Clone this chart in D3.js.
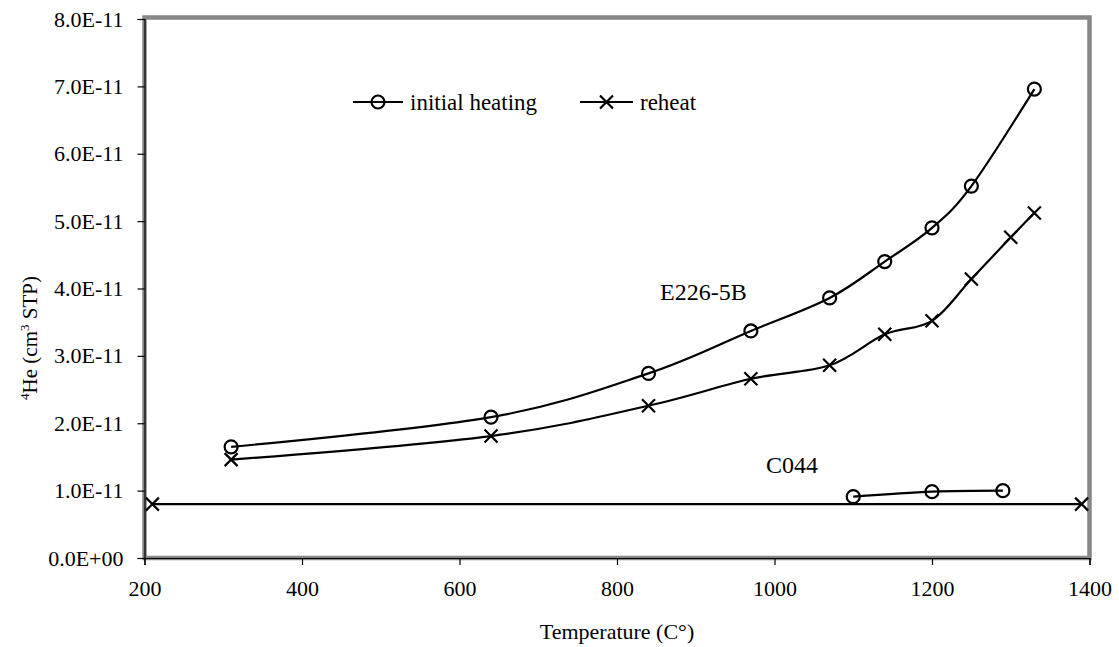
<!DOCTYPE html>
<html>
<head>
<meta charset="utf-8">
<script src="https://cdn.jsdelivr.net/npm/d3@7"></script>
<style>
  html, body { margin: 0; padding: 0; background: #fff; }
  svg text { font-family: "Liberation Serif", "Times New Roman", serif; fill: #000; }
</style>
</head>
<body>
<div id="chart"></div>
<script>
// E226-5B initial heating (circles)
const initTemp = [310, 640, 840, 970, 1070, 1140, 1200, 1250, 1330];
const initHe   = [1.65e-11, 2.09e-11, 2.74e-11, 3.37e-11, 3.86e-11, 4.40e-11, 4.90e-11, 5.52e-11, 6.96e-11];

// E226-5B reheat (crosses)
const reheatTemp = [310, 640, 840, 970, 1070, 1140, 1200, 1250, 1300, 1330];
const reheatHe   = [1.46e-11, 1.81e-11, 2.26e-11, 2.66e-11, 2.86e-11, 3.32e-11, 3.52e-11, 4.14e-11, 4.76e-11, 5.12e-11];

// C044 initial heating (circles)
const c044Temp = [1100, 1200, 1290];
const c044He   = [0.91e-11, 0.985e-11, 1.00e-11];

// blank / reheat baseline (crosses)
const blankTemp = [210, 1390];
const blankHe   = [0.80e-11, 0.80e-11];

const xTicks = [200, 400, 600, 800, 1000, 1200, 1400];
const yTicks = [0, 1e-11, 2e-11, 3e-11, 4e-11, 5e-11, 6e-11, 7e-11, 8e-11];

const W = 1119, H = 647;
const plot = { l: 144.5, r: 1089.5, t: 19, b: 558 };
const FONT = "Liberation Serif, Times New Roman, serif";

const svg = d3.select("#chart").append("svg")
  .attr("width", W)
  .attr("height", H)
  .attr("font-family", FONT);

const x = d3.scaleLinear().domain([200, 1400]).range([plot.l, plot.r]);
const y = d3.scaleLinear().domain([0, 8e-11]).range([plot.b, plot.t]);

const fmtY = d => d === 0 ? "0.0E+00" : (d / 1e-11).toFixed(1) + "E-11";

// plot area border
svg.append("rect")
  .attr("x", plot.l)
  .attr("y", plot.t - 1.5)
  .attr("width", plot.r - plot.l)
  .attr("height", plot.b - plot.t + 1.5)
  .attr("fill", "none")
  .attr("stroke", "#868686")
  .attr("stroke-width", 4.5);

// axes
const xAxis = svg.append("g")
  .attr("transform", `translate(0,${plot.b})`)
  .call(d3.axisBottom(x).tickValues(xTicks).tickSize(7).tickPadding(15).tickFormat(d3.format("d")));

const yAxis = svg.append("g")
  .attr("transform", `translate(${plot.l},0)`)
  .call(d3.axisLeft(y).tickValues(yTicks).tickSize(7).tickPadding(14).tickFormat(fmtY));

[xAxis, yAxis].forEach(g => {
  g.attr("font-family", FONT).attr("font-size", 22);
  g.select(".domain").attr("stroke", "#000").attr("stroke-width", 1.2);
  g.selectAll(".tick line").attr("stroke", "#000").attr("stroke-width", 1.2);
  g.selectAll(".tick text").attr("fill", "#000");
});

// axis titles
svg.append("text")
  .attr("x", (plot.l + plot.r) / 2)
  .attr("y", 639)
  .attr("text-anchor", "middle")
  .attr("font-size", 22)
  .text("Temperature (C°)");

const yTitle = svg.append("text")
  .attr("transform", "translate(37,338) rotate(-90)")
  .attr("text-anchor", "middle")
  .attr("font-size", 21);
yTitle.append("tspan").attr("font-size", 13).attr("dy", -8).text("4");
yTitle.append("tspan").attr("dy", 8).text("He (cm");
yTitle.append("tspan").attr("font-size", 13).attr("dy", -8).text("3");
yTitle.append("tspan").attr("dy", 8).text(" STP)");

// series
const toPts = (xs, ys) => xs.map((t, i) => ({ t, v: ys[i] }));

const smooth = d3.line()
  .x(d => x(d.t))
  .y(d => y(d.v))
  .curve(d3.curveCatmullRom.alpha(0));

const straight = d3.line()
  .x(d => x(d.t))
  .y(d => y(d.v));

const series = [
  { pts: toPts(initTemp, initHe), marker: "circle", line: smooth },
  { pts: toPts(reheatTemp, reheatHe), marker: "cross", line: smooth },
  { pts: toPts(c044Temp, c044He), marker: "circle", line: smooth },
  { pts: toPts(blankTemp, blankHe), marker: "cross", line: straight }
];

const gSeries = svg.append("g");

function drawMarker(g, type, cx, cy) {
  if (type === "circle") {
    g.append("circle")
      .attr("cx", cx).attr("cy", cy).attr("r", 6.5)
      .attr("fill", "none")
      .attr("stroke", "#000")
      .attr("stroke-width", 2.2);
  } else {
    const s = 6.5;
    g.append("path")
      .attr("d", `M${cx - s},${cy - s}L${cx + s},${cy + s}M${cx - s},${cy + s}L${cx + s},${cy - s}`)
      .attr("stroke", "#000")
      .attr("stroke-width", 2.2)
      .attr("fill", "none");
  }
}

series.forEach(s => {
  gSeries.append("path")
    .datum(s.pts)
    .attr("d", s.line)
    .attr("fill", "none")
    .attr("stroke", "#000")
    .attr("stroke-width", 2.2);
  s.pts.forEach(p => drawMarker(gSeries, s.marker, x(p.t), y(p.v)));
});

// labels
svg.append("text")
  .attr("x", 660).attr("y", 300)
  .attr("font-size", 24)
  .text("E226-5B");

svg.append("text")
  .attr("x", 766).attr("y", 473)
  .attr("font-size", 24)
  .text("C044");

// legend
const legend = svg.append("g");
const legendItems = [
  { marker: "circle", label: "initial heating", x0: 353, x1: 403 },
  { marker: "cross", label: "reheat", x0: 580, x1: 633 }
];
const ly = 102;
legendItems.forEach(it => {
  legend.append("line")
    .attr("x1", it.x0).attr("x2", it.x1)
    .attr("y1", ly).attr("y2", ly)
    .attr("stroke", "#000")
    .attr("stroke-width", 2.2);
  drawMarker(legend, it.marker, (it.x0 + it.x1) / 2, ly);
  legend.append("text")
    .attr("x", it.x1 + 7)
    .attr("y", ly + 8)
    .attr("font-size", 23)
    .text(it.label);
});
</script>
</body>
</html>
